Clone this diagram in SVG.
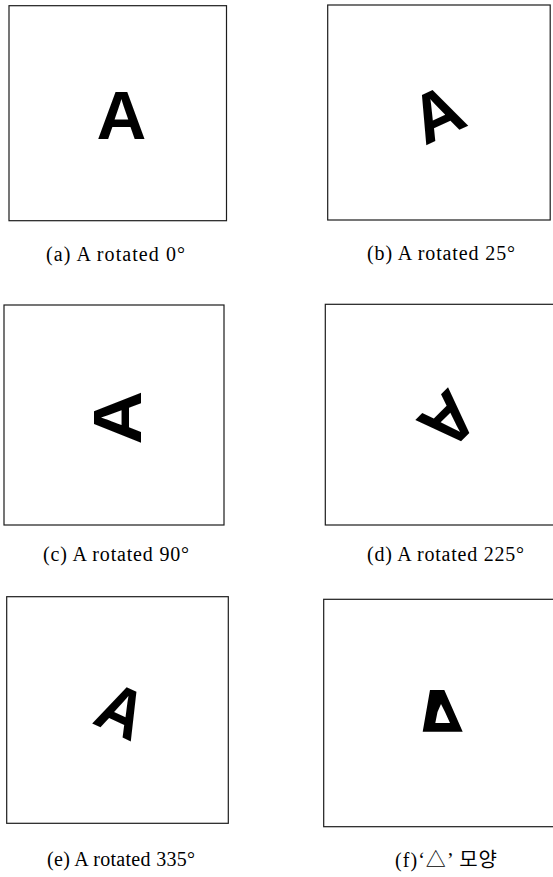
<svg xmlns="http://www.w3.org/2000/svg" width="553" height="877" viewBox="0 0 553 877">
<style>
.frame{fill:none;stroke:#1c1c1c;stroke-width:1.2}
.glyph{font-family:"Liberation Sans",Arial,sans-serif;font-weight:bold;font-size:69px;fill:#000;text-anchor:middle}
.cap{font-family:"Liberation Serif","Noto Sans CJK KR",serif;font-size:20px;fill:#000}
</style>
<rect x="0" y="0" width="553" height="877" fill="#fff"/>
<g id="panel-a">
<rect class="frame" x="9" y="5.7" width="217.5" height="215"/>
<g transform="translate(121.5,114)"><text class="glyph" x="0" y="24.7">A</text></g>
<text class="cap" x="46" y="261" textLength="139" lengthAdjust="spacing">(a) A rotated 0°</text>
</g>
<g id="panel-b">
<rect class="frame" x="327.7" y="5" width="222.5" height="215"/>
<g transform="translate(437,113) rotate(-25)"><text class="glyph" x="0" y="24.7">A</text></g>
<text class="cap" x="367" y="260" textLength="148" lengthAdjust="spacing">(b) A rotated 25°</text>
</g>
<g id="panel-c">
<rect class="frame" x="4" y="305" width="220" height="220"/>
<g transform="translate(116,417.5) rotate(-90) scale(1.08,1)"><text class="glyph" x="0" y="24.7">A</text></g>
<text class="cap" x="43" y="561" textLength="146" lengthAdjust="spacing">(c) A rotated 90°</text>
</g>
<g id="panel-d">
<rect class="frame" x="325.3" y="304.3" width="240" height="220.7"/>
<g transform="translate(449,421) rotate(-225)"><text class="glyph" x="0" y="24.7">A</text></g>
<text class="cap" x="367" y="561" textLength="157" lengthAdjust="spacing">(d) A rotated 225°</text>
</g>
<g id="panel-e">
<rect class="frame" x="6.7" y="596.7" width="221.6" height="226.6"/>
<g transform="translate(122,710) rotate(25) scale(0.92,1)"><text class="glyph" x="0" y="24.7">A</text></g>
<text class="cap" x="47" y="866" textLength="148" lengthAdjust="spacing">(e) A rotated 335°</text>
</g>
<g id="panel-f">
<rect class="frame" x="323.7" y="599.3" width="240" height="227.4"/>
<path d="M430,690 L444.3,690 L462.7,731.7 L422.7,731.7 Z M441,704 L445,712 L450,723 L435.3,723 L437.5,712 Z" fill="#000" fill-rule="evenodd"/>
<text class="cap" x="395" y="867" textLength="102" lengthAdjust="spacing">(f)‘△’ 모양</text>
</g>
</svg>
